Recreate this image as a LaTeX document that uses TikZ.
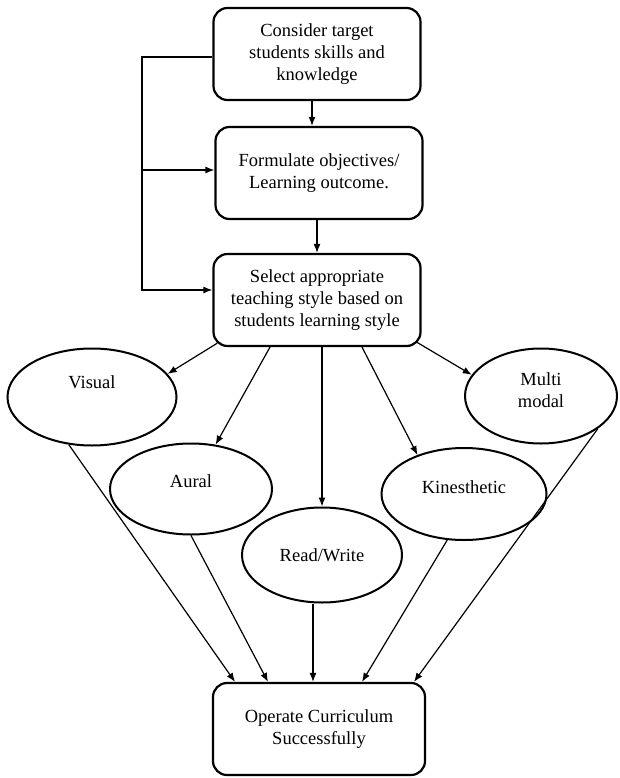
\documentclass[tikz,border=0pt]{standalone}
\usepackage{fontspec}
\setmainfont{Liberation Serif}
\usetikzlibrary{arrows.meta, shapes.geometric, positioning, calc}

\begin{document}
\begin{tikzpicture}[
    x=1pt, y=-1pt,
    box/.style={draw, rounded corners=14pt, line width=2.2pt, minimum width=207pt, minimum height=92pt, align=center, font=\fontsize{18.5}{22}\selectfont},
    oval/.style={draw, ellipse, line width=2pt, inner sep=0pt, align=center, font=\fontsize{18.5}{22}\selectfont},
    lift/.style={text depth=#1},
    link/.style={-{Latex[length=9pt,width=7pt]}, line width=1.2pt}
]
    \useasboundingbox (0,0) rectangle (619,778);
    \node[box] (consider) at (317,54) {Consider target\\students skills and\\knowledge};
    \node[box] (formulate) at (319,173) {Formulate objectives/\\Learning outcome.};
    \node[box] (select) at (317,300) {Select appropriate\\teaching style based on\\students learning style};
    \node[oval, minimum width=169pt, minimum height=97pt, lift=30pt] (visual) at (92,397) {Visual};
    \node[oval, minimum width=162pt, minimum height=91pt, lift=16pt] (aural) at (191,489) {Aural};
    \node[oval, minimum width=160pt, minimum height=95pt] (rw) at (322,555) {Read/Write};
    \node[oval, minimum width=165pt, minimum height=92pt, lift=14pt] (kin) at (464,494) {Kinesthetic};
    \node[oval, minimum width=152pt, minimum height=95pt, lift=12pt] (multi) at (541,396) {Multi\\modal};
    \node[box, minimum width=212pt] (operate) at (319,729) {Operate Curriculum\\Successfully};
    \coordinate (rail) at (142,170);
    \draw[link] ([yshift=-3pt]consider.west) -| (rail) |- ([yshift=10pt]select.west);
    \draw[link] (rail) -- (rail -| formulate.west);
    \draw[link] ([xshift=-5pt]consider.south) -- ([xshift=-5pt]consider.south |- formulate.north);
    \draw[link] (select.north |- formulate.south) -- (select.north);
    \draw[link] ([shift={(5pt,4pt)}]select.south west) -- (visual.17);
    \draw[link] ([xshift=-47pt]select.south) -- (aural.61);
    \draw[link] ([xshift=5pt]select.south) -- (rw.north);
    \draw[link] ([xshift=45pt]select.south) -- (kin.140);
    \draw[link] ([shift={(-5pt,5pt)}]select.south east) -- (multi.163);
    \draw[link] (visual.244) -- ([xshift=-84pt]operate.north);
    \draw[link] (aural.south) -- ([xshift=-51pt]operate.north);
    \draw[link] ([xshift=-9pt]rw.south) -- ([xshift=-6pt]operate.north);
    \draw[link] (kin.250) -- ([xshift=43pt]operate.north);
    \draw[link] (multi.330) -- ([xshift=95pt]operate.north);
\end{tikzpicture}
\end{document}
